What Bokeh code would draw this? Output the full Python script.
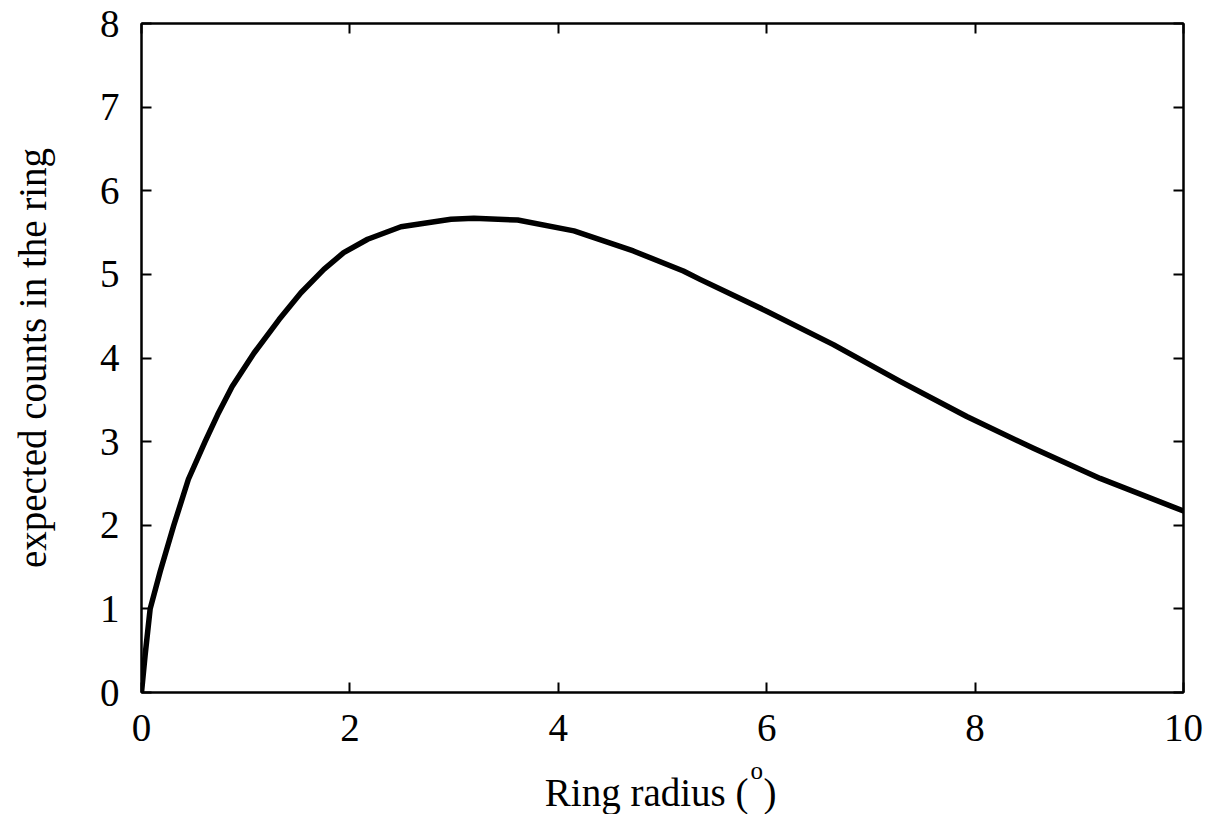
from bokeh.plotting import figure
from bokeh.layouts import column
from bokeh.models import LinearAxis, FixedTicker, ColumnDataSource, CustomLabelingPolicy
from bokeh.core.properties import value
from bokeh.embed import file_html
from bokeh.resources import INLINE

# values
radius = [0.0, 0.035, 0.083, 0.18, 0.31, 0.45, 0.61, 0.73, 0.87, 1.08, 1.32, 1.53, 1.75, 1.94, 2.17,
          2.49, 2.97, 3.19, 3.61, 4.15, 4.72, 5.2, 5.36, 6.0, 6.64, 7.28, 7.92, 8.56, 9.2, 10.0]
counts = [0.0, 0.45, 1.0, 1.45, 2.0, 2.55, 3.0, 3.32, 3.66, 4.06, 4.46, 4.78, 5.06, 5.26, 5.42,
          5.57, 5.66, 5.67, 5.65, 5.52, 5.28, 5.04, 4.94, 4.56, 4.16, 3.72, 3.30, 2.92, 2.56, 2.17]
x_ticks = [0, 2, 4, 6, 8, 10]
y_ticks = [0, 1, 2, 3, 4, 5, 6, 7, 8]
x_label = "Ring radius ("
x_label_sup = "o"
x_label_end = ")"
y_label = "expected counts in the ring"

FONT = "Liberation Serif"
FS = "39px"

p = figure(width=1209, height=760, frame_width=1042, frame_height=669,
           x_range=(0, 10), y_range=(0, 8),
           output_backend="svg", toolbar_location=None,
           min_border_left=141, min_border_right=26, min_border_top=23, min_border_bottom=68)
p.title = None
p.xgrid.visible = False
p.ygrid.visible = False
p.outline_line_color = "black"
p.outline_line_width = 2
p.background_fill_color = "white"
p.border_fill_color = "white"

src = ColumnDataSource(dict(x=radius, y=counts))
p.line("x", "y", source=src, line_color="black", line_width=5.5, line_join="round", line_cap="round")

def style(ax, labels=True):
    ax.axis_line_color = "black"
    ax.axis_line_width = 2
    ax.major_tick_in = 10
    ax.major_tick_out = 0
    ax.major_tick_line_width = 2
    ax.major_tick_line_color = "black"
    ax.minor_tick_line_color = None
    ax.major_label_text_font = FONT
    ax.major_label_text_color = "black"
    ax.axis_label_text_font = FONT
    ax.axis_label_text_font_size = FS
    ax.axis_label_text_font_style = "normal"
    ax.axis_label_text_color = "black"
    if labels:
        ax.major_label_text_font_size = FS
    else:
        ax.major_label_text_font_size = "1px"
        ax.major_label_standoff = 0
        ax.major_label_policy = CustomLabelingPolicy(code="for (const i of indices) indices.unset(i)")

xa = p.xaxis[0]
ya = p.yaxis[0]
xa.ticker = FixedTicker(ticks=x_ticks)
ya.ticker = FixedTicker(ticks=y_ticks)
style(xa)
style(ya)
xa.major_label_standoff = 22
ya.major_label_standoff = 22
ya.axis_label = y_label
ya.axis_label_standoff = 43

top = LinearAxis(ticker=FixedTicker(ticks=x_ticks))
right = LinearAxis(ticker=FixedTicker(ticks=y_ticks))
style(top, labels=False)
style(right, labels=False)
p.add_layout(top, "above")
p.add_layout(right, "right")

# strip below the plot holding the x-axis title with its superscript
p2 = figure(width=1209, height=54, frame_width=1042, frame_height=54,
            x_range=p.x_range, y_range=(0, 54), x_axis_type=None, y_axis_type=None,
            output_backend="svg", toolbar_location=None,
            min_border_left=141, min_border_right=26, min_border_top=0, min_border_bottom=0)
p2.title = None
p2.xgrid.visible = False
p2.ygrid.visible = False
p2.outline_line_color = None
p2.background_fill_color = "white"
p2.border_fill_color = "white"
p2.text(x=[5.825], y=[22], text=[x_label], text_align="right", text_baseline="middle",
        text_font=value(FONT), text_font_size=FS, text_color="black")
p2.text(x=[5.845], y=[44], text=[x_label_sup], text_align="left", text_baseline="middle",
        text_font=value(FONT), text_font_size="25px", text_color="black")
p2.text(x=[5.969], y=[22], text=[x_label_end], text_align="left", text_baseline="middle",
        text_font=value(FONT), text_font_size=FS, text_color="black")

layout = column(p, p2, spacing=0)
open("out.html", "w").write(file_html(layout, INLINE))
